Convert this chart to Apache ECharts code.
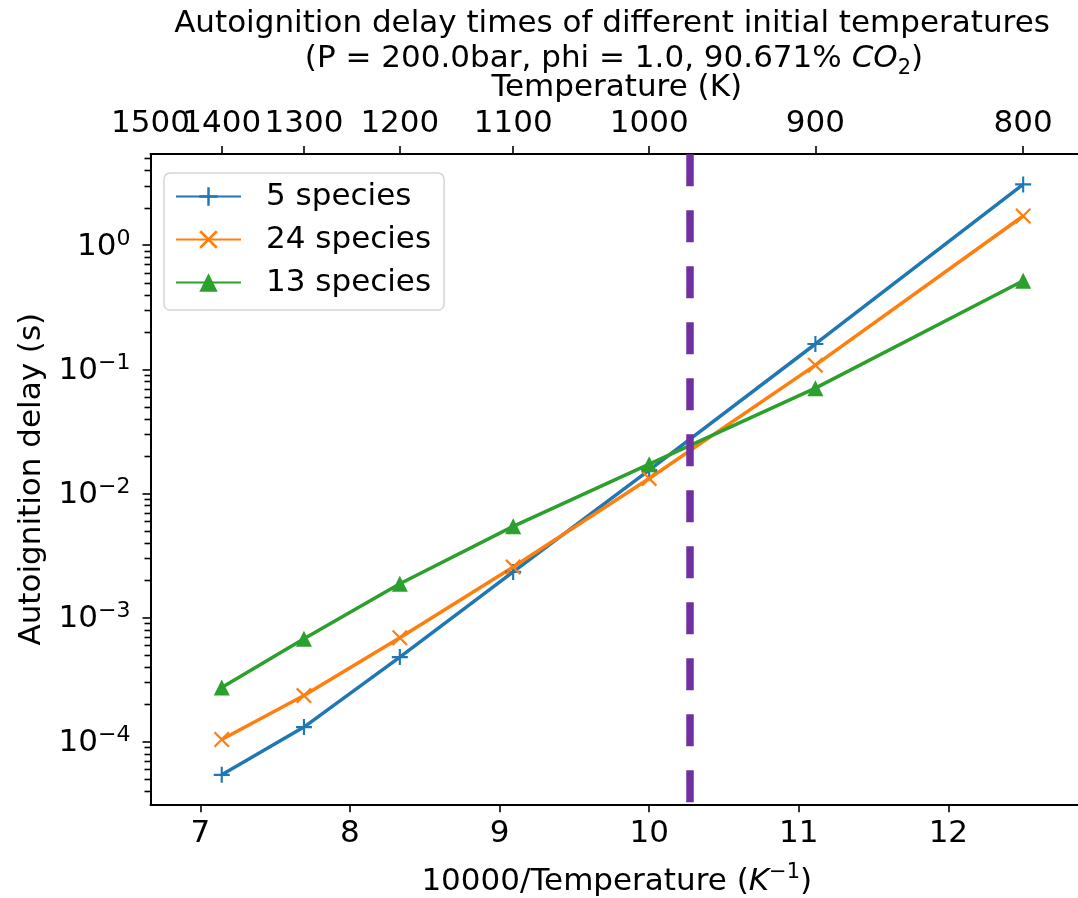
<!DOCTYPE html>
<html><head><meta charset="utf-8">
<script src="https://cdn.jsdelivr.net/npm/echarts@6/dist/echarts.min.js"></script>
<style>html,body{margin:0;padding:0;background:#fff}#c{width:1078px;height:898px}</style>
</head><body><div id="c"></div>
<script>
// ---- data ----
const temperatures = [1400, 1300, 1200, 1100, 1000, 900, 800];
const species5  = [5.4e-5, 1.31e-4, 4.8e-4, 2.33e-3, 1.54e-2, 0.160, 3.09];
const species24 = [1.04e-4, 2.35e-4, 6.87e-4, 2.55e-3, 1.32e-2, 0.108, 1.72];
const species13 = [2.73e-4, 6.75e-4, 1.87e-3, 5.43e-3, 1.72e-2, 0.0705, 0.517];
const seriesNames = ['5 species', '24 species', '13 species'];
const topTempTicks = [1500, 1400, 1300, 1200, 1100, 1000, 900, 800];
const bottomTicks = [7, 8, 9, 10, 11, 12];
const yDecades = [-4, -3, -2, -1, 0];
const crossoverInvT = 10.265;
const xMin = 10000 / 1500 - 1e-9, xMax = 12.9;
const yMinLog = -4.505, yMaxLog = 0.735;

// ---- derived ----
const invT = temperatures.map(t => 10000 / t);
const toPts = vals => invT.map((x, i) => [x, Math.log10(vals[i])]);
const topTickVals = topTempTicks.map(t => 10000 / t);
const minorVals = [];
for (let n = -5; n <= 0; n++) for (let k = 2; k <= 9; k++) {
  const v = n + Math.log10(k);
  if (v > yMinLog && v < yMaxLog) minorVals.push(v);
}
const FONT = 'DejaVu Sans';
const FS = 31;
const TOP_MARGIN = 15;
const plusSym = 'path://M6.5,0H8.5V6.5H15V8.5H8.5V15H6.5V8.5H0V6.5H6.5Z';
const xSym = 'path://M0,1.5L1.5,0L15,13.5L13.5,15Z M13.5,0L15,1.5L1.5,15L0,13.5Z';
const black = '#000';
const axisLineStyle = { color: black, width: 2 };
const tickStyle = { color: black, width: 1.6 };

const supMinus = n => n < 0 ? '\u2212' + (-n) : String(n);

const chart = echarts.init(document.getElementById('c'), null, { renderer: 'canvas' });
const mkSeries = (name, vals, color, symbol, size) => ({
  name, type: 'line', data: toPts(vals), xAxisIndex: 0, yAxisIndex: 0,
  symbol, symbolSize: size, showSymbol: true,
  lineStyle: { color, width: 3.5 },
  itemStyle: { color, borderWidth: 0 },
  emphasis: { disabled: true }, z: 3
});
const s0 = mkSeries(seriesNames[0], species5, '#1f77b4', plusSym, 16);
s0.markLine = {
  silent: true, symbol: ['none', 'none'], label: { show: false },
  lineStyle: { color: '#7030a0', width: 7.5, type: [32, 24], dashOffset: -2, opacity: 1 },
  emphasis: { disabled: true },
  data: [{ xAxis: crossoverInvT }]
};
// minor log ticks on the left axis, positioned through the axis scale
const minorTickSeries = {
  type: 'custom', name: 'minorTicks', coordinateSystem: 'cartesian2d',
  xAxisIndex: 0, yAxisIndex: 0, silent: true, clip: false, z: 10,
  data: minorVals.map(v => [xMin, v]),
  renderItem: (params, api) => {
    const p = api.coord([api.value(0), api.value(1)]);
    const y = Math.round(p[1]) + 0.5;
    return { type: 'rect', shape: { x: p[0] - 6, y: y - 0.8, width: 6, height: 1.6 },
      style: { fill: black }, z2: 10 };
  }
};
// label for the leftmost temperature tick (overlapping neighbour in the original)
const edgeLabelSeries = {
  type: 'custom', name: 'edgeLabel', coordinateSystem: 'cartesian2d',
  xAxisIndex: 0, yAxisIndex: 0, silent: true, clip: false, z: 5,
  data: [[10000 / topTempTicks[0], yMaxLog]],
  renderItem: (params, api) => {
    const p = api.coord([api.value(0), api.value(1)]);
    return { type: 'text', x: p[0], y: p[1] - TOP_MARGIN,
      style: { text: String(topTempTicks[0]), fontFamily: FONT, fontSize: FS, fill: black,
        align: 'center', verticalAlign: 'bottom' } };
  }
};
const option = {
  animation: false,
  textStyle: { fontFamily: FONT },
  title: [
    { text: 'Autoignition delay times of different initial temperatures',
      left: 612, top: 24, padding: 0, textAlign: 'center', textVerticalAlign: 'middle',
      textStyle: { fontFamily: FONT, fontSize: FS, fontWeight: 'normal', color: black } },
    { text: '(P = 200.0bar, phi = 1.0, 90.671% {i|CO}{sub|2})',
      left: 614, top: 59, padding: 0, textAlign: 'center', textVerticalAlign: 'middle',
      textStyle: { fontFamily: FONT, fontSize: FS, fontWeight: 'normal', color: black, lineHeight: 40,
        rich: {
          i: { fontFamily: FONT, fontStyle: 'italic', fontSize: FS, lineHeight: 40, color: black },
          sub: { fontFamily: FONT, fontSize: 21, lineHeight: 21, verticalAlign: 'bottom', color: black }
        } } }
  ],
  legend: {
    orient: 'vertical', left: 164, top: 173,
    data: seriesNames,
    itemWidth: 65, itemHeight: 23, itemGap: 12,
    padding: [8, 13, 12, 11],
    backgroundColor: '#fff', borderColor: '#d5d5d5', borderWidth: 1.5, borderRadius: 6,
    textStyle: { fontFamily: FONT, fontSize: FS, color: black, lineHeight: 31, padding: [0, 0, 0, 20] },
    selectedMode: false
  },
  grid: { left: 150.5, top: 154, width: (xMax - xMin) * 149.6, height: 650.3,
    containLabel: false, outerBoundsMode: 'none' },
  xAxis: [
    { type: 'value', position: 'bottom', min: xMin, max: xMax,
      axisLine: { show: true, onZero: false, lineStyle: axisLineStyle },
      axisTick: { show: true, customValues: bottomTicks, length: 8, lineStyle: tickStyle },
      axisLabel: { customValues: bottomTicks, fontFamily: FONT, fontSize: FS, color: black, margin: 14, hideOverlap: false },
      splitLine: { show: false },
      name: '10000/Temperature ({i|K}{s|\u22121})', nameLocation: 'middle', nameGap: 58,
      nameTextStyle: { fontFamily: FONT, fontSize: FS, color: black, lineHeight: 40,
        rich: {
          i: { fontFamily: FONT, fontStyle: 'italic', fontSize: FS, lineHeight: 40, color: black },
          s: { fontFamily: FONT, fontSize: 21, lineHeight: 21, verticalAlign: 'top', color: black }
        } } },
    { type: 'value', position: 'top', min: xMin, max: xMax,
      axisLine: { show: true, onZero: false, lineStyle: axisLineStyle },
      axisTick: { show: true, customValues: topTickVals, length: 8, lineStyle: tickStyle },
      axisLabel: { customValues: topTickVals, formatter: v => String(Math.round(10000 / v)),
        showMinLabel: false, showMaxLabel: true,
        fontFamily: FONT, fontSize: FS, color: black, margin: TOP_MARGIN, hideOverlap: false },
      splitLine: { show: false },
      name: 'Temperature (K)', nameLocation: 'middle', nameGap: 49,
      nameTextStyle: { fontFamily: FONT, fontSize: FS, color: black } }
  ],
  yAxis: [
    { type: 'value', position: 'left', min: yMinLog, max: yMaxLog,
      axisLine: { show: true, onZero: false, lineStyle: axisLineStyle },
      axisTick: { show: true, customValues: yDecades, length: 8, lineStyle: tickStyle },
      axisLabel: { customValues: yDecades, margin: 20, hideOverlap: false,
        formatter: v => '{b|10}{s|' + supMinus(Math.round(v)) + '}',
        rich: {
          b: { fontFamily: FONT, fontSize: FS, lineHeight: 20, verticalAlign: 'bottom', color: black },
          s: { fontFamily: FONT, fontSize: 22, lineHeight: 34, verticalAlign: 'top', color: black }
        } },
      splitLine: { show: false },
      name: 'Autoignition delay (s)', nameLocation: 'middle', nameGap: 102,
      nameTextStyle: { fontFamily: FONT, fontSize: FS, color: black } }
  ],
  series: [
    s0,
    mkSeries(seriesNames[1], species24, '#ff7f0e', xSym, 16),
    mkSeries(seriesNames[2], species13, '#2ca02c', 'triangle', 16),
    minorTickSeries,
    edgeLabelSeries
  ]
};
chart.setOption(option);
</script></body></html>
